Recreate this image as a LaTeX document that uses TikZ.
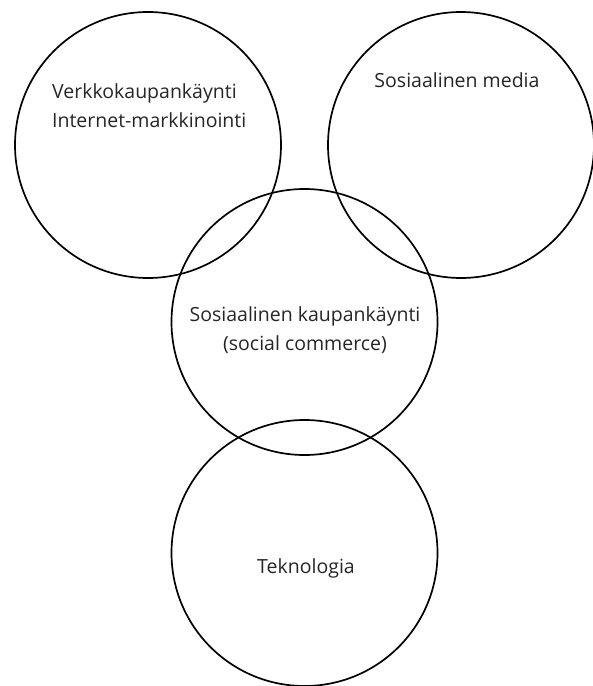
\documentclass[tikz,border=0pt]{standalone}
\usepackage{fontspec}
\setmainfont{Open Sans}
\usetikzlibrary{positioning}

\tikzset{
  ring/.style={draw, circle, line width=1.7pt, minimum size=266bp, inner sep=0pt},
  label text/.style={font=\fontsize{19.5bp}{29bp}\selectfont, text=black!85, inner sep=0pt}
}

\begin{document}
\begin{tikzpicture}[x=1bp,y=-1bp]
\useasboundingbox (0,0) rectangle (593,686);
% the four circles
\node[ring] (verkko) at (148,145) {};
\node[ring] (some) at (461,145) {};
\node[ring] (social) at (304.5,322) {};
\node[ring] (tekno) at (304.5,553) {};
% texts
\node[label text, align=left, anchor=west] (verkkotxt) at (52,106) {Verkkokaupankäynti\\Internet-markkinointi};
\node[label text] (sometxt) at (457,80) {Sosiaalinen media};
\node[label text, align=center] (socialtxt) at (305,330) {Sosiaalinen kaupankäynti\\(social commerce)};
\node[label text] (teknotxt) at (306,568) {Teknologia};
\end{tikzpicture}
\end{document}
